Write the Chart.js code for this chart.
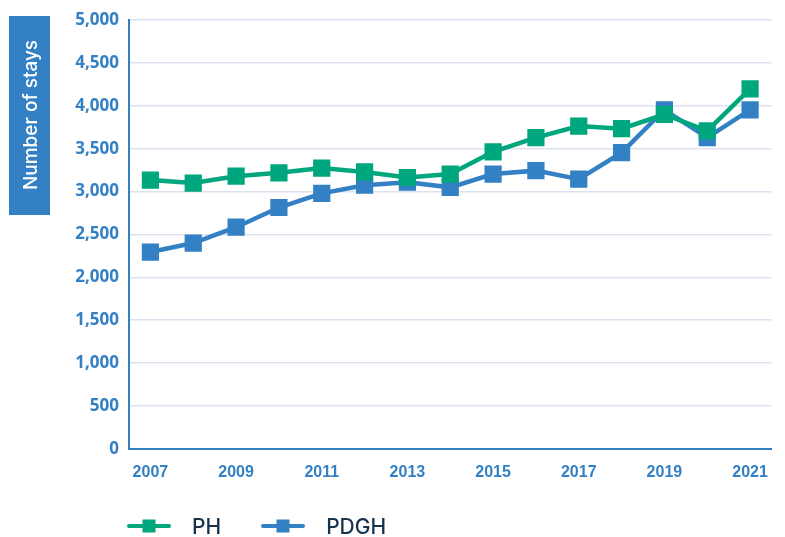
<!DOCTYPE html>
<html>
<head>
<meta charset="utf-8">
<script src="https://cdn.jsdelivr.net/npm/chart.js@4/dist/chart.umd.min.js"></script>
<style>
  html, body { margin: 0; padding: 0; background: #fff; }
  #wrap { position: relative; width: 785px; height: 537px; }
  #legend {
    position: absolute; left: 127px; top: 511px; height: 30px;
    display: flex; align-items: center;
    font-family: "Inter", sans-serif; font-weight: 500; font-size: 21px; color: #17324a;
  }
  .item { display: flex; align-items: center; margin-right: 40px; }
  .item canvas { margin-right: 21px; }
</style>
</head>
<body>
<div id="wrap">
  <canvas id="staysChart"></canvas>
  <div id="legend"></div>
</div>
<script>
const years = ["2007", "2008", "2009", "2010", "2011", "2012", "2013", "2014",
  "2015", "2016", "2017", "2018", "2019", "2020", "2021"];
const phStays = [3135, 3100, 3180, 3220, 3275, 3230, 3165, 3205,
  3465, 3630, 3765, 3735, 3900, 3710, 4200];
const pdghStays = [2295, 2400, 2585, 2815, 2980, 3075, 3110, 3050,
  3205, 3245, 3145, 3455, 3955, 3630, 3955];
const yTitle = "Number of stays";

const GREEN = "#00a67e";
const BLUE = "#3380c4";

// legend marker: short line with a square on it
function legendMarker(color) {
  const c = document.createElement("canvas");
  c.width = 44;
  c.height = 14;
  const ctx = c.getContext("2d");
  ctx.strokeStyle = color;
  ctx.lineWidth = 4;
  ctx.lineCap = "round";
  ctx.beginPath();
  ctx.moveTo(2, 7);
  ctx.lineTo(42, 7);
  ctx.stroke();
  ctx.fillStyle = color;
  ctx.fillRect(15.5, 0.5, 13, 13);
  return c;
}

// blue box with the rotated axis title
const titleBox = {
  id: "titleBox",
  afterDraw(chart) {
    const ctx = chart.ctx;
    ctx.save();
    ctx.fillStyle = BLUE;
    ctx.fillRect(9, 16, 41, 199);
    ctx.translate(31, 115);
    ctx.rotate(-Math.PI / 2);
    ctx.fillStyle = "#fff";
    ctx.font = "500 19px Inter";
    ctx.textAlign = "center";
    ctx.textBaseline = "middle";
    ctx.fillText(yTitle, 0, 0);
    ctx.restore();
  }
};

const chart = new Chart(document.querySelector("#staysChart"), {
  type: "line",
  data: {
    labels: years,
    datasets: [
      {
        label: "PH",
        data: phStays,
        borderColor: GREEN,
        backgroundColor: GREEN,
        borderWidth: 4.5,
        pointStyle: "rect",
        pointRadius: 9,
        pointHoverRadius: 9,
        tension: 0,
      },
      {
        label: "PDGH",
        data: pdghStays,
        borderColor: BLUE,
        backgroundColor: BLUE,
        borderWidth: 4.5,
        pointStyle: "rect",
        pointRadius: 9,
        pointHoverRadius: 9,
        tension: 0,
      },
    ],
  },
  options: {
    responsive: true,
    maintainAspectRatio: false,
    animation: false,
    layout: { padding: { top: 4, right: 1, bottom: 41, left: 0 } },
    plugins: {
      tooltip: { enabled: false },
      legend: { display: false },
    },
    scales: {
      x: {
        offset: true,
        grid: { display: false, drawTicks: false },
        border: { color: BLUE, width: 2 },
        ticks: {
          autoSkip: false,
          maxRotation: 0,
          padding: 14,
          color: BLUE,
          font: { family: "'Liberation Sans'", weight: "bold", size: 16 },
          callback(value, index) {
            return index % 2 === 0 ? this.getLabelForValue(value) : null;
          },
        },
      },
      y: {
        min: 0,
        max: 5000,
        afterFit(scale) { scale.width = 129; },
        grid: { color: "#dde2f1", lineWidth: 1.5, drawTicks: false },
        border: { color: BLUE, width: 2 },
        ticks: {
          stepSize: 500,
          padding: 10,
          color: BLUE,
          font: { family: "'Open Sans'", weight: "bold", size: 17 },
          callback(value) { return value.toLocaleString("en-US"); },
        },
      },
    },
  },
  plugins: [titleBox],
});

// html legend under the plot
const legendEl = document.querySelector("#legend");
chart.data.datasets.forEach((ds) => {
  const item = document.createElement("div");
  item.className = "item";
  item.appendChild(legendMarker(ds.borderColor));
  const label = document.createElement("span");
  label.textContent = ds.label;
  item.appendChild(label);
  legendEl.appendChild(item);
});
</script>
</body>
</html>
